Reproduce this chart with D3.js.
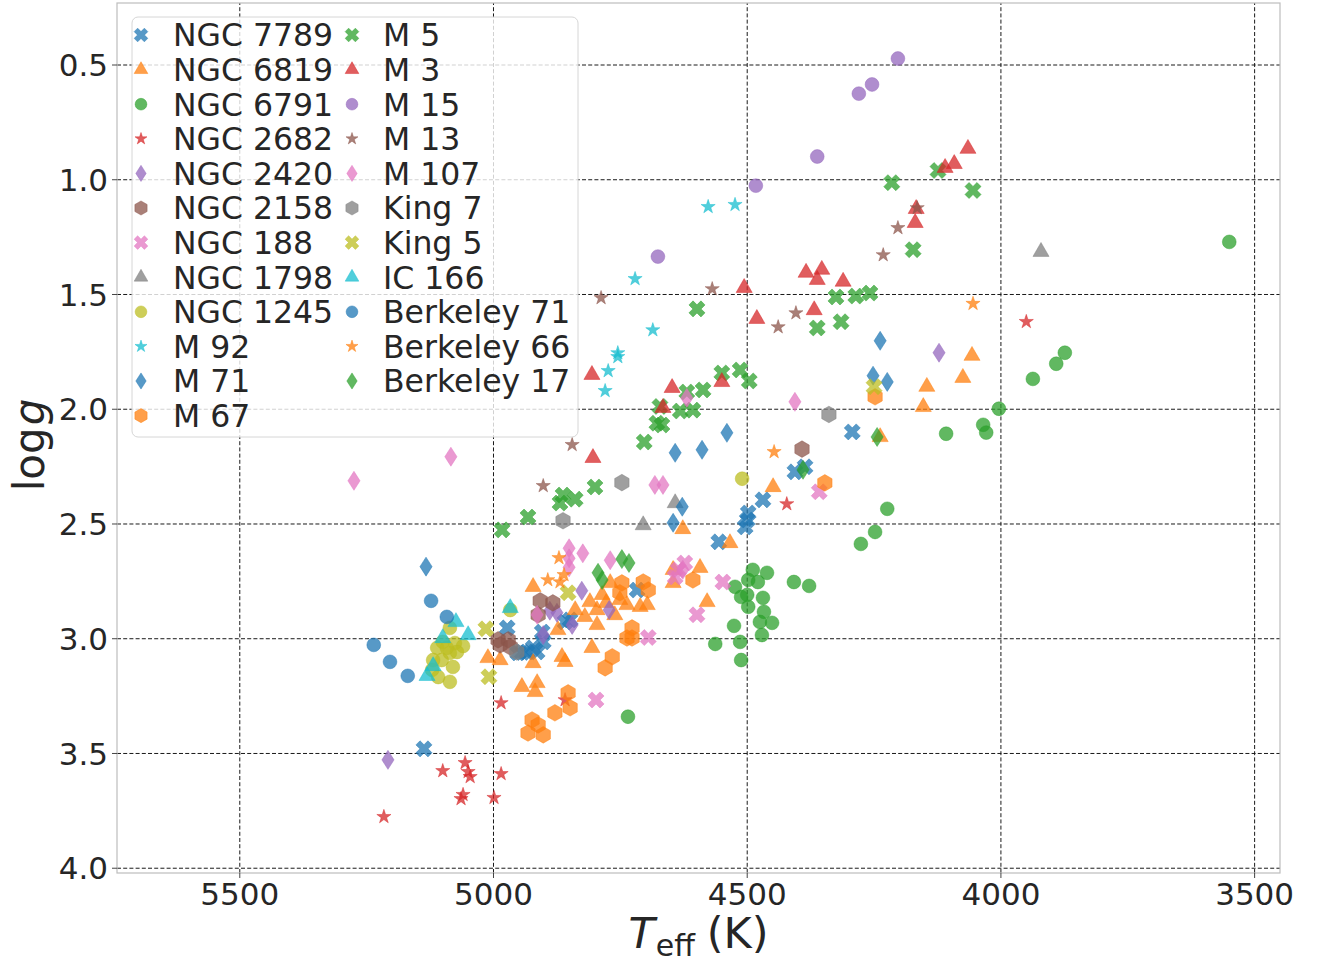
<!DOCTYPE html>
<html>
<head>
<meta charset="utf-8">
<script src="https://cdn.jsdelivr.net/npm/d3@7"></script>
<style>
  body { margin: 0; background: #fff; }
  text { font-family: "DejaVu Sans", sans-serif; fill: #262626; }
</style>
</head>
<body>
<svg id="chart" width="1318" height="965"></svg>
<script>
// ---- data: [Teff (K), log g] per star, grouped by cluster ----
const ngc7789 = [[4972,2.955],[4951,3.064],[4933,3.060],[4921,3.042],[4913,3.060],[4903,2.973],[4901,3.016],[4858,2.929],[4848,2.920],[4716,2.790],[4555,2.580],[4503,2.515],[4499,2.485],[4497,2.454],[4468,2.397],[4405,2.275],[4385,2.253],[4292,2.101],[5136,3.482],[4942,3.062]];
const ngc6819 = [[4921,2.776],[4809,2.842],[4785,2.811],[4769,2.759],[4795,2.877],[4819,2.907],[4760,2.899],[4736,2.855],[4710,2.863],[4696,2.855],[4795,2.942],[4872,2.964],[4805,3.042],[5010,3.086],[4986,3.095],[4921,3.108],[4864,3.081],[4858,3.103],[4943,3.212],[4913,3.195],[4917,3.234],[4645,2.702],[4645,2.759],[4592,2.693],[4578,2.842],[4626,2.524],[4533,2.585],[4448,2.341],[4237,2.123],[4152,1.992],[4145,1.904],[4074,1.865],[4056,1.769],[4750,2.833],[4777,2.846],[4838,2.877]];
const ngc6791 = [[4488,2.702],[4460,2.715],[4497,2.746],[4478,2.755],[4523,2.776],[4511,2.820],[4499,2.811],[4468,2.824],[4497,2.863],[4466,2.885],[4474,2.929],[4450,2.933],[4470,2.986],[4525,2.946],[4513,3.016],[4511,3.095],[4562,3.025],[4407,2.755],[4377,2.772],[4734,3.342],[3549,1.273],[3936,1.870],[3890,1.804],[3873,1.756],[4003,2.000],[4034,2.070],[4028,2.104],[4107,2.109],[4223,2.436],[4247,2.537],[4275,2.589]];
const ngc2682 = [[4984,3.282],[5055,3.543],[5049,3.582],[5045,3.604],[5099,3.578],[4984,3.591],[5059,3.682],[5063,3.700],[4998,3.695],[5215,3.778],[4858,3.269],[4421,2.415],[3949,1.621]];
const ngc2420 = [[5207,3.530],[4825,2.793],[4874,2.889],[4888,2.880],[4844,2.942],[4901,2.986],[4771,2.877],[4121,1.756]];
const ngc2158 = [[4907,2.837],[4882,2.846],[4911,2.898],[4990,3.007],[4970,3.007],[4986,3.029],[4966,3.038],[4391,2.176]];
const ngc188  = [[4694,2.997],[4797,3.269],[4635,2.702],[4622,2.672],[4641,2.733],[4547,2.755],[4598,2.898],[4357,2.362]];
const ngc1798 = [[4704,2.507],[4641,2.411],[3920,1.316]];
const ngc1245 = [[5085,2.955],[5099,3.016],[5075,3.021],[5059,3.034],[5110,3.042],[5085,3.064],[5101,3.095],[5079,3.125],[5118,3.095],[5120,3.138],[5108,3.169],[5085,3.190],[5071,3.060],[5091,3.042],[4966,2.877],[4509,2.305]];
const m92     = [[4576,1.120],[4523,1.111],[4720,1.434],[4685,1.657],[4754,1.757],[4754,1.774],[4773,1.835],[4779,1.922]];
const m71     = [[5132,2.688],[4641,2.192],[4588,2.179],[4539,2.105],[4237,1.704],[4251,1.856],[4223,1.883],[4627,2.427],[4645,2.497]];
const m67     = [[4746,2.759],[4750,2.802],[4704,2.755],[4694,2.790],[4726,2.955],[4726,2.999],[4736,2.999],[4765,3.081],[4779,3.129],[4852,3.238],[4848,3.303],[4878,3.325],[4923,3.356],[4911,3.378],[4931,3.413],[4901,3.421],[4606,2.746],[4346,2.323],[4247,1.948]];
const m5      = [[4982,2.528],[4931,2.472],[4868,2.411],[4862,2.376],[4838,2.394],[4799,2.341],[4702,2.145],[4677,2.063],[4667,2.071],[4631,2.010],[4606,2.006],[4618,1.927],[4586,1.918],[4549,1.844],[4513,1.831],[4495,1.879],[4598,1.565],[4324,1.513],[4285,1.509],[4257,1.496],[4361,1.648],[4314,1.621],[4172,1.307],[4214,1.015],[4123,0.962],[4054,1.049],[4671,1.990]];
const m3      = [[4805,1.852],[4803,2.214],[4647,1.909],[4665,1.996],[4549,1.883],[4505,1.473],[4480,1.608],[4383,1.407],[4352,1.394],[4361,1.438],[4310,1.446],[4367,1.570],[4166,1.129],[4168,1.190],[4109,0.950],[4091,0.933],[4064,0.867]];
const m15     = [[4202,0.474],[4253,0.587],[4279,0.627],[4361,0.901],[4482,1.028],[4675,1.337]];
const m13     = [[4787,1.517],[4568,1.478],[4403,1.583],[4438,1.644],[4844,2.157],[4901,2.336],[4164,1.125],[4202,1.212],[4231,1.330]];
const m107    = [[5274,2.314],[5083,2.209],[4850,2.608],[4823,2.630],[4850,2.652],[4850,2.691],[4769,2.660],[4913,2.898],[4618,1.953],[4681,2.332],[4665,2.332],[4405,1.970],[4626,2.702]];
const king7   = [[4862,2.488],[4746,2.322],[4338,2.025],[4953,3.060]];
const king5   = [[5014,2.959],[5008,3.168],[4852,2.802],[4249,1.904]];
const ic166   = [[5073,2.929],[5049,2.986],[5099,2.999],[5118,3.121],[5130,3.164],[4966,2.868]];
const be71    = [[5122,2.837],[5091,2.907],[5235,3.029],[5203,3.103],[5168,3.164]];
const be66    = [[4870,2.650],[4892,2.746],[4868,2.755],[4860,2.724],[4446,2.188],[4054,1.542]];
const be17    = [[4746,2.655],[4732,2.672],[4793,2.715],[4785,2.746],[4389,2.266],[4243,2.123]];

const clusterNames = ["NGC 7789","NGC 6819","NGC 6791","NGC 2682","NGC 2420","NGC 2158","NGC 188","NGC 1798","NGC 1245","M 92","M 71","M 67","M 5","M 3","M 15","M 13","M 107","King 7","King 5","IC 166","Berkeley 71","Berkeley 66","Berkeley 17"];
const clusterStars = [ngc7789,ngc6819,ngc6791,ngc2682,ngc2420,ngc2158,ngc188,ngc1798,ngc1245,m92,m71,m67,m5,m3,m15,m13,m107,king7,king5,ic166,be71,be66,be17];

const xTickValues = [5500, 5000, 4500, 4000, 3500];
const yTickValues = [0.5, 1.0, 1.5, 2.0, 2.5, 3.0, 3.5, 4.0];
const yTickLabels = ["0.5","1.0","1.5","2.0","2.5","3.0","3.5","4.0"];

// ---- styling ----
const palette = ["#1f77b4","#ff7f0e","#2ca02c","#d62728","#9467bd","#8c564b","#e377c2","#7f7f7f","#bcbd22","#17becf"];

// filled "X" marker; size = arm length from centre
const symbolX = { draw(ctx, r) {
  const a = r / Math.SQRT2, w = a * 0.34;
  const pts = [[w,a],[w,w],[a,w],[a,-w],[w,-w],[w,-a],[-w,-a],[-w,-w],[-a,-w],[-a,w],[-w,w],[-w,a]];
  const c = Math.SQRT1_2;
  pts.forEach(([px,py],i) => {
    const qx = (px - py) * c, qy = (px + py) * c;
    i ? ctx.lineTo(qx, qy) : ctx.moveTo(qx, qy);
  });
  ctx.closePath();
}};
// thin diamond; size = half height
const symbolThinDiamond = { draw(ctx, r) {
  const w = r * 0.64;
  ctx.moveTo(0, -r); ctx.lineTo(w, 0); ctx.lineTo(0, r); ctx.lineTo(-w, 0); ctx.closePath();
}};
// pointy-top hexagon; size = circumradius
const symbolHexagon = { draw(ctx, r) {
  for (let i = 0; i < 6; i++) {
    const t = -Math.PI / 2 + i * Math.PI / 3;
    i ? ctx.lineTo(r * Math.cos(t), r * Math.sin(t)) : ctx.moveTo(r * Math.cos(t), r * Math.sin(t));
  }
  ctx.closePath();
}};
// marker cycle: X, triangle, circle, star, thin diamond, hexagon
const markers = [
  { type: symbolX,           size: 12   },
  { type: d3.symbolTriangle, size: 112  },
  { type: d3.symbolCircle,   size: 150  },
  { type: d3.symbolStar,     size: 62   },
  { type: symbolThinDiamond, size: 9.5  },
  { type: symbolHexagon,     size: 8.3  }
];
const markerPath = (i, scale = 1) => {
  const m = markers[i % 6];
  const isArea = (m.type === d3.symbolTriangle || m.type === d3.symbolCircle || m.type === d3.symbolStar);
  return d3.symbol().type(m.type).size(isArea ? m.size * scale * scale : m.size * scale)();
};

// ---- layout ----
const plot = { left: 117, top: 3, width: 1163, height: 870 };

const svg = d3.select("#chart");
const g = svg.append("g").attr("transform", `translate(${plot.left},${plot.top})`);

const x = d3.scaleLinear().domain([5741, 3449]).range([0, plot.width]);
const y = d3.scaleLinear().domain([0.232, 4.023]).range([0, plot.height]);

// grid
const gridX = g.append("g").attr("transform", `translate(0,${plot.height})`)
  .call(d3.axisBottom(x).tickValues(xTickValues).tickSize(-plot.height).tickFormat(""));
const gridY = g.append("g")
  .call(d3.axisLeft(y).tickValues(yTickValues).tickSize(-plot.width).tickFormat(""));
[gridX, gridY].forEach(a => {
  a.select(".domain").remove();
  a.selectAll("line").attr("stroke", "#1a1a1a").attr("stroke-width", 1).attr("stroke-dasharray", "4,2.2");
});

// frame
g.append("rect").attr("width", plot.width).attr("height", plot.height)
  .attr("fill", "none").attr("stroke", "#bdbdbd").attr("stroke-width", 1.2);

// axes
const xAxis = g.append("g").attr("transform", `translate(0,${plot.height})`)
  .call(d3.axisBottom(x).tickValues(xTickValues).tickSize(5).tickPadding(3).tickFormat(d3.format("d")));
const yAxis = g.append("g")
  .call(d3.axisLeft(y).tickValues(yTickValues).tickSize(5).tickPadding(4).tickFormat((d, i) => yTickLabels[i]));
[xAxis, yAxis].forEach(a => {
  a.select(".domain").remove();
  a.selectAll("line").attr("stroke", "#444");
  a.selectAll("text").attr("font-size", 31).attr("fill", "#262626")
    .attr("font-family", "DejaVu Sans, sans-serif");
});
xAxis.selectAll("text").attr("dy", "0.76em");
yAxis.selectAll("text").attr("dy", "0.36em");

// points
clusterStars.forEach((stars, i) => {
  g.append("g").selectAll("path").data(stars).join("path")
    .attr("d", markerPath(i))
    .attr("transform", d => `translate(${x(d[0])},${y(d[1])})`)
    .attr("fill", palette[i % 10]).attr("fill-opacity", 0.75)
    .attr("stroke", palette[i % 10]).attr("stroke-opacity", 0.75).attr("stroke-width", 0.6);
});

// axis titles
svg.append("text")
  .attr("transform", `translate(44,445) rotate(-90)`)
  .attr("text-anchor", "middle").attr("font-size", 42)
  .call(t => { t.append("tspan").text("log"); t.append("tspan").attr("font-style", "italic").attr("dx", 2).text("g"); });

svg.append("text")
  .attr("x", plot.left + plot.width / 2).attr("y", 948)
  .attr("text-anchor", "middle").attr("font-size", 43)
  .call(t => {
    t.append("tspan").attr("font-style", "italic").text("T");
    t.append("tspan").attr("font-size", 30).attr("dx", 1).attr("dy", 8).text("eff");
    t.append("tspan").attr("dy", -8).attr("dx", 12).text("(K)");
  });

// legend
const legend = svg.append("g");
legend.append("rect").attr("x", 132).attr("y", 17).attr("width", 446).attr("height", 420)
  .attr("rx", 6).attr("fill", "#fff").attr("fill-opacity", 0.8).attr("stroke", "#d6d6d6");
const rows = 12, rowH = 34.6;
clusterNames.forEach((name, i) => {
  const col = i < rows ? 0 : 1, row = i < rows ? i : i - rows;
  const cy = 35 + row * rowH;
  const mx = col ? 352 : 141, tx = col ? 383 : 173;
  legend.append("path").attr("d", markerPath(i, 0.85))
    .attr("transform", `translate(${mx},${cy})`)
    .attr("fill", palette[i % 10]).attr("fill-opacity", 0.75)
    .attr("stroke", palette[i % 10]).attr("stroke-opacity", 0.75).attr("stroke-width", 0.6);
  legend.append("text").attr("x", tx).attr("y", cy + 11.3).attr("font-size", 31.5).text(name);
});
</script>
</body>
</html>
